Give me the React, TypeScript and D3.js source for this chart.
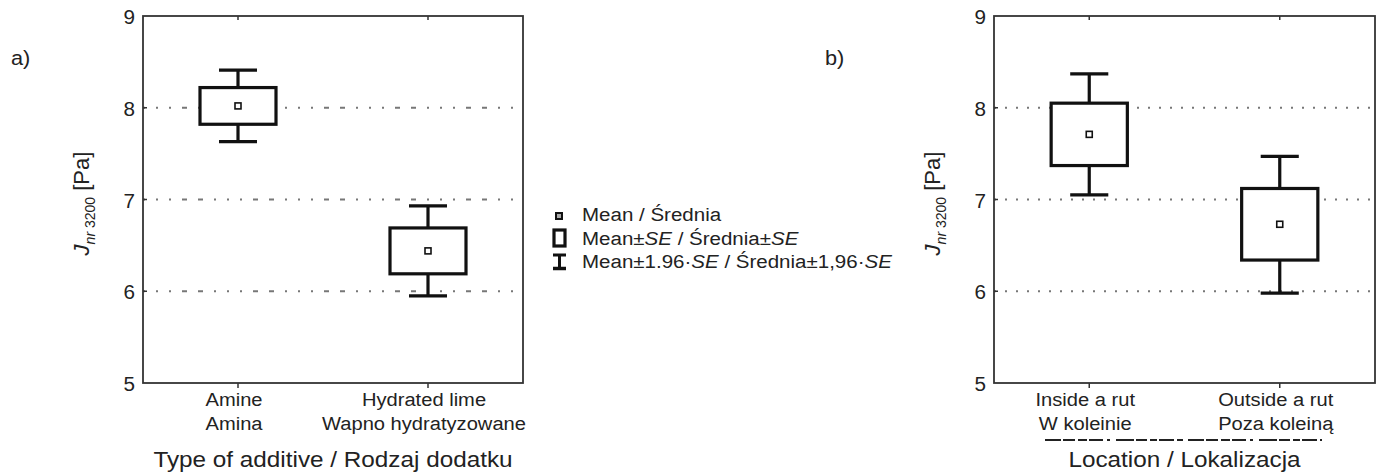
import React, { useEffect, useRef } from 'react';
import * as d3 from 'd3';

// panel a) type of additive
const additiveEn = ['Amine', 'Hydrated lime'];
const additivePl = ['Amina', 'Wapno hydratyzowane'];
const additiveMean = [8.02, 6.44];
const additiveSeLow = [7.82, 6.19];
const additiveSeHigh = [8.22, 6.69];
const additiveCiLow = [7.63, 5.95];
const additiveCiHigh = [8.41, 6.93];

// panel b) location
const locationEn = ['Inside a rut', 'Outside a rut'];
const locationPl = ['W koleinie', 'Poza koleiną'];
const locationMean = [7.71, 6.73];
const locationSeLow = [7.37, 6.34];
const locationSeHigh = [8.05, 7.12];
const locationCiLow = [7.05, 5.98];
const locationCiHigh = [8.37, 7.47];

const yTicks = [5, 6, 7, 8, 9];
const gridTicks = [6, 7, 8];

const FONT = '"Liberation Sans", Arial, sans-serif';
const W = 1377;
const H = 475;
const SX = 1.06; // the source figure is slightly stretched horizontally

type Panel = {
  tag: string;
  tagX: number;
  left: number;
  right: number;
  dash: string;
  en: string[];
  pl: string[];
  mean: number[];
  seLow: number[];
  seHigh: number[];
  ciLow: number[];
  ciHigh: number[];
  xTitle: string;
};

const panels: Panel[] = [
  {
    tag: 'a)', tagX: 11, left: 143, right: 523, dash: '2,11,2,11,2,11,5,11,5,11',
    en: additiveEn, pl: additivePl, mean: additiveMean,
    seLow: additiveSeLow, seHigh: additiveSeHigh, ciLow: additiveCiLow, ciHigh: additiveCiHigh,
    xTitle: 'Type of additive / Rodzaj dodatku',
  },
  {
    tag: 'b)', tagX: 825, left: 994, right: 1375, dash: '2,9',
    en: locationEn, pl: locationPl, mean: locationMean,
    seLow: locationSeLow, seHigh: locationSeHigh, ciLow: locationCiLow, ciHigh: locationCiHigh,
    xTitle: 'Location / Lokalizacja',
  },
];

const at = (x: number, y: number, sx = SX) => `translate(${x},${y}) scale(${sx},1)`;

const App = () => {
  const ref = useRef<SVGSVGElement>(null);

  useEffect(() => {
    const svg = d3.select(ref.current);
    svg.selectAll('*').remove();
    svg.attr('viewBox', `0 0 ${W} ${H}`).style('font-family', FONT);

    const top = 16;
    const bottom = 383;
    const y = d3.scaleLinear().domain([5, 9]).range([bottom, top]);

    panels.forEach((p) => {
      const g = svg.append('g');
      const idx = p.en.map((_, i) => i);
      const x = d3.scalePoint<number>()
        .domain(idx)
        .range([p.left, p.right])
        .padding(0.5);
      const plotW = p.right - p.left;
      const boxW = plotW * 0.2;
      const capW = plotW * 0.1;

      // grid lines
      g.selectAll('.grid')
        .data(gridTicks)
        .join('line')
        .attr('x1', p.left)
        .attr('x2', p.right)
        .attr('y1', d => y(d))
        .attr('y2', d => y(d))
        .attr('stroke', '#777')
        .attr('stroke-width', 1.8)
        .attr('stroke-dasharray', p.dash);

      // frame
      g.append('rect')
        .attr('x', p.left)
        .attr('y', top)
        .attr('width', plotW)
        .attr('height', bottom - top)
        .attr('fill', 'none')
        .attr('stroke', '#333')
        .attr('stroke-width', 1.8);

      // y ticks
      g.selectAll('.ytick')
        .data(gridTicks)
        .join('line')
        .attr('x1', p.left)
        .attr('x2', p.left + 4)
        .attr('y1', d => y(d))
        .attr('y2', d => y(d))
        .attr('stroke', '#333')
        .attr('stroke-width', 1.5);

      g.selectAll('.ylab')
        .data(yTicks)
        .join('text')
        .attr('transform', d => at(p.left - 8, y(d)))
        .attr('dy', '0.42em')
        .attr('text-anchor', 'end')
        .attr('font-size', 19.5)
        .attr('fill', '#222')
        .text(d => d);

      // x ticks
      g.selectAll('.xtickb')
        .data(idx)
        .join('line')
        .attr('x1', d => x(d)!)
        .attr('x2', d => x(d)!)
        .attr('y1', bottom)
        .attr('y2', bottom + 5)
        .attr('stroke', '#333')
        .attr('stroke-width', 1.5);
      g.selectAll('.xtickt')
        .data(idx)
        .join('line')
        .attr('x1', d => x(d)!)
        .attr('x2', d => x(d)!)
        .attr('y1', top)
        .attr('y2', top + 4)
        .attr('stroke', '#333')
        .attr('stroke-width', 1.5);

      // category labels
      g.selectAll('.cat1')
        .data(idx)
        .join('text')
        .attr('transform', d => at(x(d)! - 4, 406))
        .attr('text-anchor', 'middle')
        .attr('font-size', 19)
        .attr('fill', '#222')
        .text(d => p.en[d]);
      g.selectAll('.cat2')
        .data(idx)
        .join('text')
        .attr('transform', d => at(x(d)! - 4, 430))
        .attr('text-anchor', 'middle')
        .attr('font-size', 19)
        .attr('fill', '#222')
        .text(d => p.pl[d]);

      // x title
      g.append('text')
        .attr('transform', at((p.left + p.right) / 2, 467, 1.08))
        .attr('text-anchor', 'middle')
        .attr('font-size', 22.5)
        .attr('fill', '#222')
        .text(p.xTitle);

      // y title
      const yt = g.append('text')
        .attr('transform', `translate(${p.left - 54},${(top + bottom) / 2 + 4}) rotate(-90)`)
        .attr('text-anchor', 'middle')
        .attr('font-size', 22)
        .attr('fill', '#222');
      yt.append('tspan').attr('font-style', 'italic').text('J');
      yt.append('tspan').attr('font-style', 'italic').attr('font-size', 14).attr('dy', 6).text('nr');
      yt.append('tspan').attr('font-size', 14).text(' 3200');
      yt.append('tspan').attr('dy', -6).text('  [Pa]');

      // panel tag
      g.append('text')
        .attr('transform', at(p.tagX, 65))
        .attr('font-size', 20.5)
        .attr('fill', '#222')
        .text(p.tag);

      // boxes: mean ± SE, whiskers: mean ± 1.96 SE
      const grp = g.selectAll('.cat')
        .data(idx)
        .join('g');
      grp.each(function (i) {
        const c = d3.select(this);
        const cx = x(i)!;
        c.append('line')
          .attr('x1', cx).attr('x2', cx)
          .attr('y1', y(p.ciHigh[i])).attr('y2', y(p.ciLow[i]))
          .attr('stroke', '#111').attr('stroke-width', 3.2);
        [p.ciHigh[i], p.ciLow[i]].forEach(v => {
          c.append('line')
            .attr('x1', cx - capW / 2).attr('x2', cx + capW / 2)
            .attr('y1', y(v)).attr('y2', y(v))
            .attr('stroke', '#111').attr('stroke-width', 3.2);
        });
        c.append('rect')
          .attr('x', cx - boxW / 2)
          .attr('y', y(p.seHigh[i]))
          .attr('width', boxW)
          .attr('height', y(p.seLow[i]) - y(p.seHigh[i]))
          .attr('fill', '#fff')
          .attr('stroke', '#111')
          .attr('stroke-width', 3.2);
        c.append('rect')
          .attr('x', cx - 3)
          .attr('y', y(p.mean[i]) - 3)
          .attr('width', 6)
          .attr('height', 6)
          .attr('fill', '#fff')
          .attr('stroke', '#111')
          .attr('stroke-width', 1.6);
      });
    });

    // clipped strip of text under panel b's category labels
    svg.append('line')
      .attr('x1', 1045).attr('x2', 1322)
      .attr('y1', 440).attr('y2', 440)
      .attr('stroke', '#222').attr('stroke-width', 2)
      .attr('stroke-dasharray', '16,2,12,3,9,2,14,4,3,6,18,2,11,3,7,2,15,3,6,5');

    // legend
    const lg = svg.append('g');
    const lx = 582;
    const rows = [221, 245, 268];
    lg.append('rect')
      .attr('x', 556).attr('y', 213).attr('width', 6).attr('height', 6)
      .attr('fill', '#aaa').attr('stroke', '#111').attr('stroke-width', 2);
    lg.append('rect')
      .attr('x', 554).attr('y', 230).attr('width', 11).attr('height', 16)
      .attr('fill', '#fff').attr('stroke', '#111').attr('stroke-width', 3.2);
    lg.append('line').attr('x1', 559.5).attr('x2', 559.5).attr('y1', 255).attr('y2', 268)
      .attr('stroke', '#111').attr('stroke-width', 3);
    lg.append('line').attr('x1', 553).attr('x2', 566).attr('y1', 255).attr('y2', 255)
      .attr('stroke', '#111').attr('stroke-width', 3);
    lg.append('line').attr('x1', 553).attr('x2', 566).attr('y1', 268.5).attr('y2', 268.5)
      .attr('stroke', '#111').attr('stroke-width', 3.5);

    const legendText = (row: number) => lg.append('text')
      .attr('transform', at(lx, rows[row], 1.08))
      .attr('font-size', 19)
      .attr('fill', '#222');
    legendText(0).text('Mean / Średnia');
    const t2 = legendText(1);
    t2.append('tspan').text('Mean±');
    t2.append('tspan').attr('font-style', 'italic').text('SE');
    t2.append('tspan').text(' / Średnia±');
    t2.append('tspan').attr('font-style', 'italic').text('SE');
    const t3 = legendText(2);
    t3.append('tspan').text('Mean±1.96·');
    t3.append('tspan').attr('font-style', 'italic').text('SE');
    t3.append('tspan').text(' / Średnia±1,96·');
    t3.append('tspan').attr('font-style', 'italic').text('SE');
  }, []);

  return (
    <div style={{ position: 'fixed', left: 0, top: 0, width: W, height: H, background: '#fff' }}>
      <svg ref={ref} width={W} height={H} style={{ display: 'block' }} />
    </div>
  );
};

export default App;
